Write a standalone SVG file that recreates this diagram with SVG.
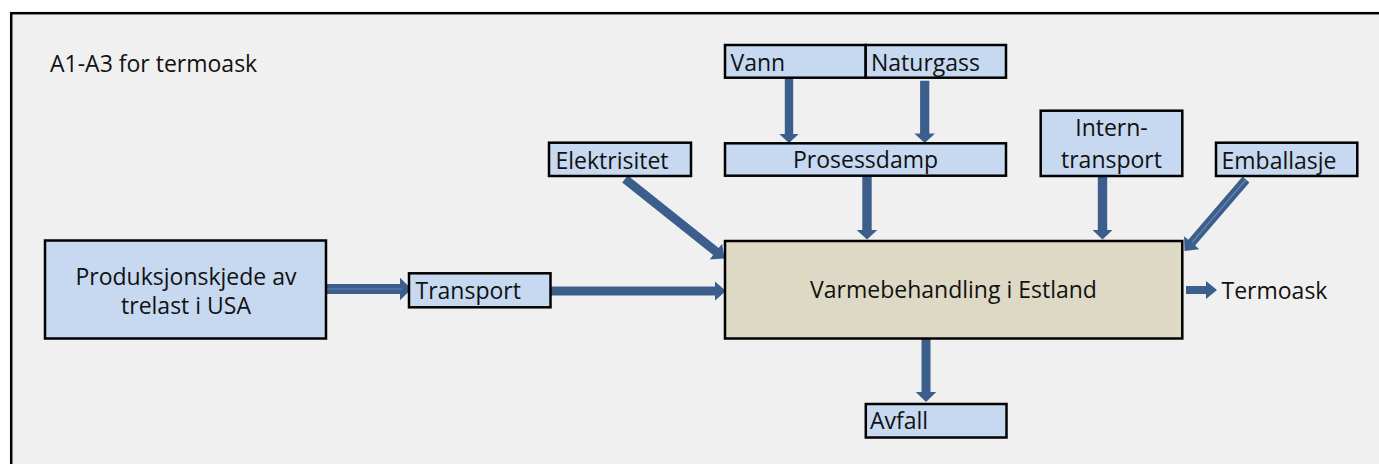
<svg xmlns="http://www.w3.org/2000/svg" width="1379" height="464" viewBox="0 0 1379 464">
  <style>
    .box { fill: #C6D9F1; stroke: #000; stroke-width: 2.5; }
    .main { fill: #DDD9C4; stroke: #000; stroke-width: 2.5; }
    .t { font-family: "Open Sans", "Liberation Sans", sans-serif; font-size: 23px; fill: #111; }
    .c { text-anchor: middle; }
    .arr { fill: #3B5E8C; }
    .hl { stroke: #6584AE; stroke-width: 1.2; fill: none; }
  </style>
  <rect x="0" y="0" width="1379" height="464" fill="#FFFFFF"/>
  <rect id="frame" x="11.2" y="13.2" width="1400" height="500" fill="#F0F0F0" stroke="#000" stroke-width="2.5"/>
  <text id="title" class="t" x="50" y="72" font-size="24">A1-A3 for termoask</text>

  <g id="connectors">
    <!-- Vann -> Prosessdamp -->
    <polygon class="arr" points="784.8,78 793.2,78 793.2,134 798.7,134 789,143 779.3,134 784.8,134"/>
    <!-- Naturgass -> Prosessdamp -->
    <polygon class="arr" points="920.1,80.7 929.3,80.7 929.3,133.5 935,133.5 924.7,143 914.4,133.5 920.1,133.5"/>
    <!-- Prosessdamp -> Varmebehandling -->
    <polygon class="arr" points="862.3,176 871.7,176 871.7,230 877.3,230 867,239.5 856.7,230 862.3,230"/>
    <!-- Intern-transport -> Varmebehandling -->
    <polygon class="arr" points="1097.8,176 1107.2,176 1107.2,230 1112.5,230 1102.5,239.5 1092.5,230 1097.8,230"/>
    <!-- Varmebehandling -> Avfall -->
    <polygon class="arr" points="921.5,338 930.5,338 930.5,392 936.2,392 926,402 915.8,392 921.5,392"/>
    <!-- Elektrisitet -> Varmebehandling -->
    <polygon class="arr" points="627.8,175.5 718.7,248.1 722.1,243.8 724.5,258.5 709.7,259.4 713.1,255.1 622.2,182.5"/>
    <!-- Emballasje -> Varmebehandling -->
    <polygon class="arr" points="1242.6,176.6 1249.4,182.4 1195.1,245.6 1199.3,249.2 1184.5,251 1184.1,236.2 1188.3,239.8"/>
    <line class="hl" x1="1246" y1="179.5" x2="1192" y2="242.5"/>
    <!-- Produksjonskjede -> Transport -->
    <polygon class="arr" points="326,284 400,284 400,277.7 411.5,289 400,300.3 400,294 326,294"/>
    <line class="hl" x1="327" y1="289" x2="402" y2="289"/>
    <!-- Transport -> Varmebehandling -->
    <polygon class="arr" points="550,286.5 715,286.5 715,281.5 726,291 715,300.5 715,295.5 550,295.5"/>
    <!-- Varmebehandling -> Termoask -->
    <polygon class="arr" points="1186,286 1206,286 1206,281 1217,290 1206,299 1206,294 1186,294"/>
  </g>

  <g id="vann">
    <rect class="box" x="725" y="45" width="140.7" height="32.7"/>
    <text class="t" x="730.5" y="70.7">Vann</text>
  </g>
  <g id="naturgass">
    <rect class="box" x="865.7" y="45" width="140.3" height="32.7"/>
    <text class="t" x="871" y="70.7">Naturgass</text>
  </g>
  <g id="prosessdamp">
    <rect class="box" x="725" y="143.3" width="281" height="32.4"/>
    <text class="t c" x="865.5" y="168.3">Prosessdamp</text>
  </g>
  <g id="elektrisitet">
    <rect class="box" x="549" y="142.7" width="142" height="33.3"/>
    <text class="t" x="555.5" y="169">Elektrisitet</text>
  </g>
  <g id="interntransport">
    <rect class="box" x="1040.7" y="110.7" width="141.6" height="65.3"/>
    <text class="t c" x="1111.5" y="136">Intern-</text>
    <text class="t c" x="1111.5" y="168.3">transport</text>
  </g>
  <g id="emballasje">
    <rect class="box" x="1216" y="142.7" width="141.3" height="33.3"/>
    <text class="t" x="1221.5" y="169">Emballasje</text>
  </g>
  <g id="produksjonskjede">
    <rect class="box" x="45" y="240.5" width="281" height="98"/>
    <text class="t c" x="186" y="285">Produksjonskjede av</text>
    <text class="t c" x="186" y="314.3">trelast i USA</text>
  </g>
  <g id="transport">
    <rect class="box" x="409" y="273.3" width="141.5" height="34"/>
    <text class="t" x="415.5" y="299.3" font-size="22">Transport</text>
  </g>
  <g id="varmebehandling">
    <rect class="main" x="725" y="241" width="457.3" height="97.5"/>
    <text class="t c" x="953.5" y="298.3" font-size="24.5">Varmebehandling i Estland</text>
  </g>
  <g id="avfall">
    <rect class="box" x="865.8" y="404" width="140.7" height="33.5"/>
    <text class="t" x="870" y="429">Avfall</text>
  </g>
  <g id="termoask">
    <text class="t" x="1221.5" y="299.3">Termoask</text>
  </g>
</svg>
